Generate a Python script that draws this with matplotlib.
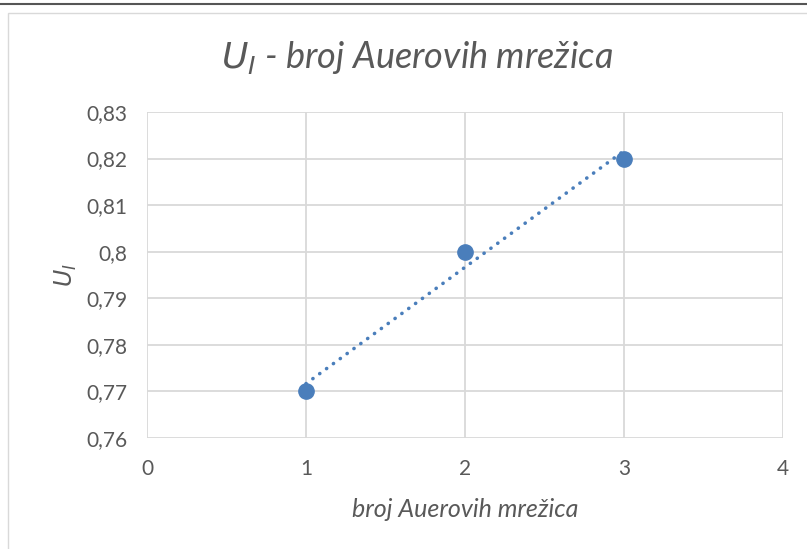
import numpy as np
import matplotlib
matplotlib.use("Agg")
import matplotlib.pyplot as plt
from matplotlib.lines import Line2D
from matplotlib.patches import Rectangle
from matplotlib.ticker import FuncFormatter

# data
broj = [1, 2, 3]
napon = [0.77, 0.80, 0.82]
x_ticks = [0, 1, 2, 3, 4]
y_ticks = [0.76, 0.77, 0.78, 0.79, 0.80, 0.81, 0.82, 0.83]

plt.rcParams['font.family'] = ['Lato', 'DejaVu Sans']

W, H = 807, 549
fig = plt.figure(figsize=(W / 100, H / 100), dpi=100)

# outer frame like the screenshot
fig.add_artist(Line2D([0, 1], [1 - 4 / H, 1 - 4 / H], color='#555555', lw=1.5,
                      transform=fig.transFigure))
fig.add_artist(Rectangle((8 / W, -0.05), 1.1, 1 - 13 / H + 0.05, fill=False,
                         edgecolor='#d9d9d9', lw=1.0, transform=fig.transFigure))

ax = fig.add_axes([147 / W, 1 - 438 / H, (783 - 147) / W, (438 - 112) / H])

grid_c = '#d9d9d9'
blue = '#4a7ebb'

# linear trendline (Excel style)
k, n = np.polyfit(broj, napon, 1)
xt = np.array([min(broj), max(broj)])
ax.plot(xt, k * xt + n, color=blue, lw=2.6, linestyle=(0, (0.05, 2.3)),
        dash_capstyle='round', zorder=3)
ax.plot(broj, napon, 'o', color=blue, markersize=11, zorder=4)

ax.set_xlim(0, 4)
ax.set_ylim(0.76, 0.83)
ax.set_xticks(x_ticks)
ax.set_yticks(y_ticks)
ax.grid(True, color=grid_c, lw=1.3)
ax.set_axisbelow(True)
for s in ax.spines.values():
    s.set_visible(False)
ax.tick_params(length=0, labelsize=15, labelcolor='#595959')
ax.tick_params(axis='x', pad=15)
ax.tick_params(axis='y', pad=14)

fmt = FuncFormatter(lambda v, p: ('%g' % round(v, 2)).replace('.', ','))
ax.yaxis.set_major_formatter(fmt)

ax.set_xlabel('broj Auerovih mrežica', fontsize=18, style='italic',
              color='#595959', labelpad=14)
ax.set_ylabel('$\\mathit{U}_{\\mathit{I}}$', fontsize=17, color='#595959',
              labelpad=5)
fig.text(0.517, 1 - 57 / H, '$\\mathit{U}_{\\mathit{I}}$ - broj Auerovih mrežica',
         fontsize=26, style='italic', color='#595959', ha='center', va='center')

fig.savefig('out.png', dpi=100, facecolor='white')
